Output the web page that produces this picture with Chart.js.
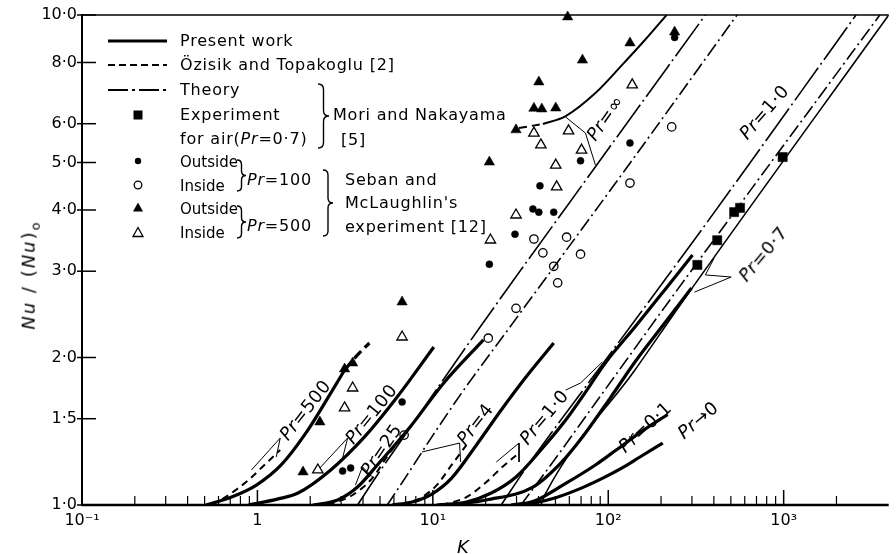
<!DOCTYPE html>
<html><head><meta charset="utf-8">
<script src="https://cdn.jsdelivr.net/npm/chart.js@4.4.1/dist/chart.umd.min.js"></script>
<style>
html,body{margin:0;padding:0;background:#fff;}
#wrap{position:relative;width:896px;height:554px;overflow:hidden;font-family:"DejaVu Sans",sans-serif;color:#000;}
canvas{position:absolute;left:0;top:0;}
.t{position:absolute;white-space:nowrap;font-size:16px;letter-spacing:0.8px;line-height:1;transform:translateY(-50%);}
.s{font-size:15px;letter-spacing:0;}
.r{position:absolute;white-space:nowrap;font-size:18px;letter-spacing:0.5px;line-height:1;}
</style></head><body>
<div id="wrap"><canvas id="c" width="896" height="554"></canvas>
<div class="t" style="left:180px;top:41px">Present work</div>
<div class="t" style="left:180px;top:65px">Özisik and Topakoglu [2]</div>
<div class="t" style="left:180px;top:90px">Theory</div>
<div class="t" style="left:180px;top:115px">Experiment</div>
<div class="t" style="left:180px;top:139px">for air(<i>Pr</i>=0·7)</div>
<div class="t s" style="left:180px;top:162px">Outside</div>
<div class="t s" style="left:180px;top:186px">Inside</div>
<div class="t s" style="left:180px;top:209px">Outside</div>
<div class="t s" style="left:180px;top:233px">Inside</div>
<div class="t" style="left:247px;top:180px"><i>Pr</i>=100</div>
<div class="t" style="left:247px;top:226px"><i>Pr</i>=500</div>
<div class="t" style="left:333px;top:115px">Mori and Nakayama</div>
<div class="t" style="left:341px;top:140px">[5]</div>
<div class="t" style="left:345px;top:180px">Seban and</div>
<div class="t" style="left:345px;top:203px">McLaughlin's</div>
<div class="t" style="left:345px;top:227px">experiment [12]</div>

<div class="r" style="left:305px;top:410px;transform:translate(-50%,-50%) rotate(-52deg)"><i>Pr</i>=500</div>
<div class="r" style="left:371px;top:414px;transform:translate(-50%,-50%) rotate(-51deg)"><i>Pr</i>=100</div>
<div class="r" style="left:381px;top:450px;transform:translate(-50%,-50%) rotate(-56deg)"><i>Pr</i>=25</div>
<div class="r" style="left:475px;top:424px;transform:translate(-50%,-50%) rotate(-52deg)"><i>Pr</i>=4</div>
<div class="r" style="left:544px;top:417px;transform:translate(-50%,-50%) rotate(-50deg)"><i>Pr</i>=1·0</div>
<div class="r" style="left:645px;top:427px;transform:translate(-50%,-50%) rotate(-43deg)"><i>Pr</i>=0·1</div>
<div class="r" style="left:698px;top:420px;transform:translate(-50%,-50%) rotate(-40deg)"><i>Pr</i>→0</div>
<div class="r" style="left:605px;top:118px;transform:translate(-50%,-50%) rotate(-55deg)"><i>Pr</i>=∞</div>
<div class="r" style="left:764px;top:112px;transform:translate(-50%,-50%) rotate(-49deg)"><i>Pr</i>=1·0</div>
<div class="r" style="left:763px;top:254px;transform:translate(-50%,-50%) rotate(-50deg)"><i>Pr</i>=0·7</div>

<div style="position:absolute;left:463px;top:546px;transform:translate(-50%,-50%);font-size:18px;font-style:italic;">K</div>
<div style="position:absolute;left:30px;top:275px;transform:translate(-50%,-50%) rotate(-90deg);font-size:18px;letter-spacing:2px;white-space:nowrap;"><i>Nu</i> / (<i>Nu</i>)<sub style="font-size:13px">o</sub></div>
</div>
<script>
// ---------- axis ticks ----------
const xMajor = [0.1, 1, 10, 100, 1000];
const xTickLabels = ['10⁻¹', '1', '10¹', '10²', '10³'];
const yTicks = [1, 1.5, 2, 3, 4, 5, 6, 8, 10];
const yTickLabels = ['1·0', '1·5', '2·0', '3·0', '4·0', '5·0', '6·0', '8·0', '10·0'];

// ---------- present work (solid) ----------
const pr500K = [0.508, 0.713, 0.987, 1.366, 1.891, 2.618, 3.14];
const pr500Nu = [1.0, 1.038, 1.098, 1.207, 1.403, 1.692, 1.886];
const pr500extK = [3.14, 3.72, 4.35];
const pr500extNu = [1.886, 2.024, 2.141];
const pr100K = [0.89, 1.314, 1.704, 2.618, 4.077, 6.26, 10.13];
const pr100Nu = [1.0, 1.029, 1.058, 1.179, 1.377, 1.661, 2.101];
const pr25K = [2.07, 2.869, 3.721, 4.827, 7.42, 11.54, 19.42];
const pr25Nu = [1.0, 1.024, 1.088, 1.207, 1.443, 1.774, 2.172];
const pr4K = [5.868, 7.61, 9.87, 12.8, 17.73, 24.54, 33.97, 48.9];
const pr4Nu = [1.0, 1.014, 1.053, 1.135, 1.326, 1.563, 1.825, 2.141];
const pr1K = [10.53, 15.56, 21.54, 29.8, 41.3, 57.2, 74.2, 96.2, 142, 209.9, 302.2];
const pr1Nu = [1.0, 1.014, 1.058, 1.141, 1.295, 1.491, 1.700, 1.949, 2.308, 2.747, 3.237];
const pr07K = [12.8, 20.19, 37.2, 53.6, 71.3, 102.6, 142, 209.9, 298.3];
const pr07Nu = [1.0, 1.024, 1.088, 1.218, 1.377, 1.653, 1.958, 2.351, 2.773];
const pr01K = [27.94, 37.2, 57.2, 84.5, 109.5, 151.6, 218.3];
const pr01Nu = [1.0, 1.016, 1.107, 1.207, 1.290, 1.405, 1.530];
const pr0K = [29.8, 37.2, 50.2, 71.3, 96.2, 120, 151.6, 204.5];
const pr0Nu = [1.0, 1.009, 1.035, 1.085, 1.141, 1.190, 1.253, 1.338];

// ---------- Özisik and Topakoglu (dashed) ----------
const oz500K = [0.55, 0.686, 0.89, 1.081, 1.349];
const oz500Nu = [1.0, 1.048, 1.125, 1.201, 1.295];
const oz25K = [2.52, 3.49, 4.52, 5.72, 6.86];
const oz25Nu = [1.0, 1.048, 1.135, 1.283, 1.389];
const oz4K = [6.68, 8.67, 10.53, 12.8, 15.56];
const oz4Nu = [1.0, 1.038, 1.098, 1.207, 1.326];
const oz1K = [11.24, 15.56, 20.19, 24.54, 29.8];
const oz1Nu = [1.0, 1.038, 1.114, 1.190, 1.262];

// ---------- theory / asymptotic lines ----------
const infLineK = [3.721, 4.827, 7.13, 18.43, 81.2, 357.8];
const infLineNu = [1.0, 1.151, 1.409, 2.297, 4.805, 10];
const lineBK = [5.50, 7.13, 9.87, 14.58, 27.23, 124.7, 542];
const lineBNu = [1.0, 1.151, 1.377, 1.692, 2.297, 4.828, 10];
const infCurveStartK = [31.0, 42.4];
const infCurveStartNu = [5.88, 5.99];
const infCurveK = [42.4, 57.2, 84.5, 120, 161.8, 215];
const infCurveNu = [5.99, 6.22, 6.93, 7.91, 8.89, 10];
const th1K = [24.54, 33.97, 50.2, 109.5, 339.8, 2585];
const th1Nu = [1.0, 1.190, 1.443, 2.101, 3.64, 10];
const th07K = [31.8, 47.0, 84.5, 218.3, 3532];
const th07Nu = [1.0, 1.207, 1.615, 2.584, 10];
const lineEK = [41.3, 44.07, 142, 261.8, 3970];
const lineENu = [1.0, 1.058, 1.886, 2.584, 10];

// ---------- experiments ----------
const airK = [322, 418, 522, 564, 987];
const airNu = [3.09, 3.47, 3.96, 4.04, 5.13];
const out100K = [3.06, 3.40, 6.68, 21.0, 29.4, 37.2, 40.2, 48.9, 40.8, 69.5, 133, 239];
const out100Nu = [1.173, 1.190, 1.623, 3.10, 3.57, 4.02, 3.96, 3.96, 4.48, 5.04, 5.48, 9.00];
const in100K = [6.86, 20.7, 29.8, 37.7, 42.4, 48.9, 51.5, 57.9, 69.5, 133, 230];
const in100Nu = [1.389, 2.19, 2.52, 3.49, 3.27, 3.07, 2.84, 3.52, 3.25, 4.54, 5.91];
const out500K = [1.82, 2.27, 3.14, 3.49, 6.68, 21.0, 29.8, 37.7, 41.8, 50.2, 40.2, 71.3, 133, 58.7, 239];
const out500Nu = [1.168, 1.477, 1.895, 1.949, 2.596, 5.01, 5.83, 6.45, 6.43, 6.46, 7.30, 8.09, 8.77, 9.91, 9.23];
const in500K = [2.21, 3.14, 3.49, 6.68, 21.3, 29.8, 37.7, 41.3, 50.2, 50.8, 59.4, 70.4, 137];
const in500Nu = [1.179, 1.578, 1.733, 2.202, 3.474, 3.907, 5.74, 5.43, 4.94, 4.46, 5.80, 5.30, 7.20];

// ---------- label leader lines [K1, Nu1, K2, Nu2] ----------
const leaders = [
  [1.349, 1.370, 0.925, 1.179], [1.349, 1.370, 1.280, 1.253],
  [3.267, 1.370, 2.27, 1.190], [3.267, 1.370, 3.06, 1.247],
  [3.97, 1.196, 3.62, 1.098], [3.97, 1.196, 4.52, 1.141],
  [14.21, 1.338, 8.67, 1.283], [14.21, 1.338, 14.39, 1.224],
  [31.0, 1.338, 23.0, 1.224], [31.0, 1.338, 31.0, 1.224],
  [57.2, 1.716, 69.5, 1.774], [69.5, 1.774, 92.5, 1.958],
  [74.2, 5.74, 57.2, 6.19], [74.2, 5.74, 84.5, 4.94],
  [502, 2.919, 357.8, 2.948], [357.8, 2.948, 402, 3.193], [502, 2.919, 310, 2.719]
];

const BLACK = '#000';
const pts = (K, Nu) => K.map((k, i) => ({x: k, y: Nu[i]}));
function curve(K, Nu, width, dash, smooth) {
  return {data: pts(K, Nu), showLine: true, pointRadius: 0, borderColor: BLACK,
    borderWidth: width, borderDash: dash || [], borderCapStyle: 'butt', borderJoinStyle: 'round',
    tension: smooth ? 0.4 : 0, cubicInterpolationMode: smooth ? 'monotone' : 'default', fill: false};
}
function marks(K, Nu, style, filled, r) {
  return {data: pts(K, Nu), showLine: false, pointStyle: style, pointRadius: r,
    pointBackgroundColor: filled ? BLACK : '#fff', pointBorderColor: BLACK,
    pointBorderWidth: filled ? 0.5 : 1.3, clip: false};
}

const THICK = 3.2, DASH = [7, 5], DASHDOT = [14, 4, 2, 4], LONGDD = [40, 4, 2, 4];
const datasets = [
  curve(pr500K, pr500Nu, THICK, null, true),
  curve(pr500extK, pr500extNu, THICK, [10, 5], true),
  curve(pr100K, pr100Nu, THICK, null, true),
  curve(pr25K, pr25Nu, THICK, null, true),
  curve(pr4K, pr4Nu, THICK, null, true),
  curve(pr1K, pr1Nu, THICK, null, true),
  curve(pr07K, pr07Nu, THICK, null, true),
  curve(pr01K, pr01Nu, THICK, null, true),
  curve(pr0K, pr0Nu, THICK, null, true),
  curve(oz500K, oz500Nu, 2, DASH, true),
  curve(oz25K, oz25Nu, 2, DASH, true),
  curve(oz4K, oz4Nu, 2, DASH, true),
  curve(oz1K, oz1Nu, 2, DASH, true),
  curve(infLineK, infLineNu, 1.6, LONGDD, true),
  curve(lineBK, lineBNu, 1.6, DASHDOT, true),
  curve(infCurveStartK, infCurveStartNu, 2, [8, 5], false),
  curve(infCurveK, infCurveNu, 2, null, true),
  curve(th1K, th1Nu, 1.6, LONGDD, true),
  curve(th07K, th07Nu, 1.6, DASHDOT, true),
  curve(lineEK, lineENu, 1.6, null, true),
  ...leaders.map(s => curve([s[0], s[2]], [s[1], s[3]], 1, null, false)),
  marks(airK, airNu, 'rect', true, 6.5),
  marks(out100K, out100Nu, 'circle', true, 3.5),
  marks(in100K, in100Nu, 'circle', false, 4.2),
  marks(out500K, out500Nu, 'triangle', true, 6),
  marks(in500K, in500Nu, 'triangle', false, 6)
];

function brace(ctx, x, y1, y2, w) {
  const ym = (y1 + y2) / 2, h = w / 2;
  ctx.beginPath();
  ctx.moveTo(x, y1);
  ctx.quadraticCurveTo(x + h, y1, x + h, y1 + h);
  ctx.lineTo(x + h, ym - h);
  ctx.quadraticCurveTo(x + h, ym, x + w, ym);
  ctx.quadraticCurveTo(x + h, ym, x + h, ym + h);
  ctx.lineTo(x + h, y2 - h);
  ctx.quadraticCurveTo(x + h, y2, x, y2);
  ctx.stroke();
}

const frame = {
  id: 'frame',
  afterDraw(chart) {
    const {ctx, chartArea: a, scales: {x, y}} = chart;
    ctx.save();
    ctx.strokeStyle = BLACK; ctx.fillStyle = BLACK; ctx.setLineDash([]);
    ctx.lineWidth = 2.6;
    ctx.beginPath(); ctx.moveTo(a.left, a.bottom); ctx.lineTo(a.right, a.bottom); ctx.stroke();
    ctx.lineWidth = 2;
    ctx.beginPath(); ctx.moveTo(a.left, a.top - 1); ctx.lineTo(a.left, a.bottom + 1); ctx.stroke();
    ctx.lineWidth = 1.6;
    ctx.beginPath(); ctx.moveTo(a.left, a.top); ctx.lineTo(a.right, a.top); ctx.stroke();
    ctx.lineWidth = 1.5;
    yTicks.forEach(v => { const p = y.getPixelForValue(v);
      ctx.beginPath(); ctx.moveTo(a.left - 5, p); ctx.lineTo(a.left + 14, p); ctx.stroke(); });
    xMajor.forEach(d => {
      let p = x.getPixelForValue(d);
      ctx.lineWidth = 1.5;
      ctx.beginPath(); ctx.moveTo(p, a.bottom); ctx.lineTo(p, a.bottom - 15); ctx.stroke();
      for (let k = 2; k <= 9; k++) {
        const v = d * k; if (v > 2000) break;
        p = x.getPixelForValue(v);
        ctx.lineWidth = 1.2;
        ctx.beginPath(); ctx.moveTo(p, a.bottom); ctx.lineTo(p, a.bottom - 9); ctx.stroke();
      }
    });
    // legend samples
    ctx.lineWidth = 3; ctx.beginPath(); ctx.moveTo(108, 41); ctx.lineTo(167, 41); ctx.stroke();
    ctx.lineWidth = 2; ctx.setLineDash([7, 4]); ctx.beginPath(); ctx.moveTo(108, 65); ctx.lineTo(167, 65); ctx.stroke();
    ctx.setLineDash([20, 4, 3, 4]); ctx.beginPath(); ctx.moveTo(108, 90); ctx.lineTo(167, 90); ctx.stroke();
    ctx.setLineDash([]);
    ctx.fillRect(133.5, 110.5, 9, 9);
    ctx.beginPath(); ctx.arc(138, 161, 3.2, 0, Math.PI * 2); ctx.fill();
    ctx.lineWidth = 1.3; ctx.beginPath(); ctx.arc(138, 185, 3.8, 0, Math.PI * 2); ctx.stroke();
    const tri = (cx, cy, fill) => { ctx.beginPath(); ctx.moveTo(cx, cy - 5.5); ctx.lineTo(cx + 5, cy + 3.5); ctx.lineTo(cx - 5, cy + 3.5); ctx.closePath(); fill ? ctx.fill() : ctx.stroke(); };
    tri(138, 208, true); tri(138, 233, false);
    // braces
    ctx.lineWidth = 1.4;
    brace(ctx, 318, 84, 148, 11);
    brace(ctx, 237, 160, 191, 9);
    brace(ctx, 237, 206, 238, 9);
    brace(ctx, 323, 170, 236, 10);
    ctx.restore();
  }
};

Chart.defaults.font.family = 'DejaVu Sans';
new Chart(document.getElementById('c'), {
  type: 'scatter',
  data: {datasets},
  options: {
    responsive: false, animation: false, devicePixelRatio: 1,
    layout: {padding: {top: 15, right: 0, left: 0, bottom: 0}},
    plugins: {legend: {display: false}, tooltip: {enabled: false}},
    scales: {
      x: {type: 'logarithmic', min: 0.1, max: 3970,
        grid: {display: false, drawTicks: false}, border: {display: false},
        afterBuildTicks: s => { s.ticks = xMajor.map(v => ({value: v})); },
        afterFit: s => { s.height = 49; },
        ticks: {autoSkip: false, maxRotation: 0, padding: 6, color: BLACK, font: {size: 16},
          callback: (v, i) => xTickLabels[i]}},
      y: {type: 'logarithmic', min: 1, max: 10,
        grid: {display: false, drawTicks: false}, border: {display: false},
        afterBuildTicks: s => { s.ticks = yTicks.map(v => ({value: v})); },
        afterFit: s => { s.width = 82; },
        ticks: {autoSkip: false, padding: 5, color: BLACK, font: {size: 16},
          callback: (v, i) => yTickLabels[i]}}
    }
  },
  plugins: [frame]
});
</script>
</body></html>
